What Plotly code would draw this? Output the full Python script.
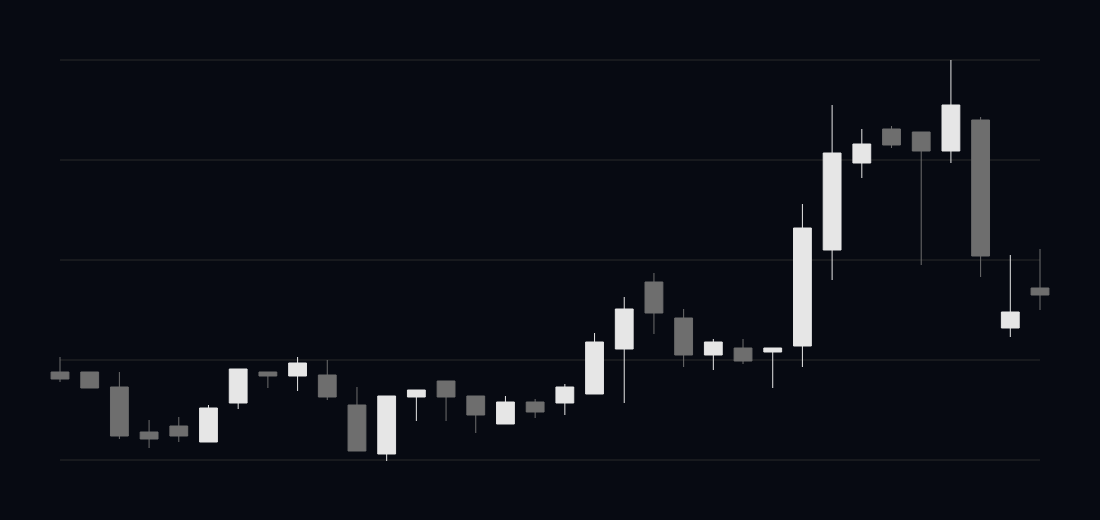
import plotly.graph_objects as go

periods = list(range(34))
open_ = [108.8, 108.8, 107.3, 102.8, 103.4, 101.8, 105.7, 108.8, 108.4, 108.5,
         105.5, 100.6, 106.3, 107.9, 106.4, 103.6, 105.8, 105.7, 106.6, 111.1,
         117.8, 114.2, 110.5, 111.2, 110.8, 111.4, 121.0, 129.7, 133.1, 132.8,
         130.9, 134.0, 113.2, 117.2]
high = [110.3, 108.8, 108.8, 104.0, 104.3, 105.5, 109.1, 108.8, 110.3, 110.0,
        107.3, 106.4, 107.0, 107.9, 106.4, 106.4, 106.1, 107.6, 112.7, 116.3,
        118.7, 115.1, 112.1, 112.1, 111.2, 125.6, 135.5, 133.1, 133.4, 132.8,
        140.0, 134.3, 120.5, 121.1]
low = [107.8, 107.2, 102.1, 101.2, 101.8, 101.8, 105.1, 107.2, 106.9, 106.0,
       100.9, 99.9, 103.9, 103.9, 102.7, 103.6, 104.2, 104.5, 106.6, 105.7,
       112.6, 109.3, 109.0, 109.6, 107.2, 109.3, 118.0, 128.2, 131.2, 119.5,
       129.7, 118.3, 112.3, 115.0]
close = [108.1, 107.2, 102.4, 102.1, 102.4, 105.2, 109.1, 108.4, 109.7, 106.3,
         100.9, 106.4, 107.0, 106.3, 104.5, 105.8, 104.8, 107.3, 111.8, 115.1,
         114.7, 110.5, 111.8, 109.9, 111.2, 123.2, 130.7, 131.6, 131.5, 130.9,
         135.5, 120.4, 114.8, 116.5]
grid_levels = [100, 110, 120, 130, 140]

BG = "#070a12"
INC = "#e6e6e6"
DEC = "#6e6e6e"
GRID = "#2a2a2a"

fig = go.Figure(
    go.Candlestick(
        x=periods, open=open_, high=high, low=low, close=close,
        increasing=dict(line=dict(color=INC, width=1), fillcolor=INC),
        decreasing=dict(line=dict(color=DEC, width=1), fillcolor=DEC),
        whiskerwidth=0,
        hoverinfo="skip",
    )
)

for g in grid_levels:
    fig.add_shape(type="line", xref="x", yref="y",
                  x0=periods[0], x1=periods[-1], y0=g, y1=g,
                  line=dict(color=GRID, width=1), layer="below")

pad = 20 / (980 / 33)
fig.update_layout(
    width=1100, height=520,
    margin=dict(l=40, r=40, t=50, b=50),
    paper_bgcolor=BG, plot_bgcolor=BG,
    showlegend=False,
    boxgap=0.4, boxgroupgap=0,
    xaxis=dict(range=[periods[0] - pad, periods[-1] + pad], showgrid=False,
               zeroline=False, showticklabels=False, showline=False,
               rangeslider=dict(visible=False), fixedrange=True),
    yaxis=dict(range=[99, 141], showgrid=False, zeroline=False,
               showticklabels=False, showline=False, fixedrange=True),
)

fig.write_html(
    "out.html",
    config={"displayModeBar": False},
    post_script="document.body.style.margin='0';document.body.style.background='#070a12';document.body.style.overflow='hidden';",
)
